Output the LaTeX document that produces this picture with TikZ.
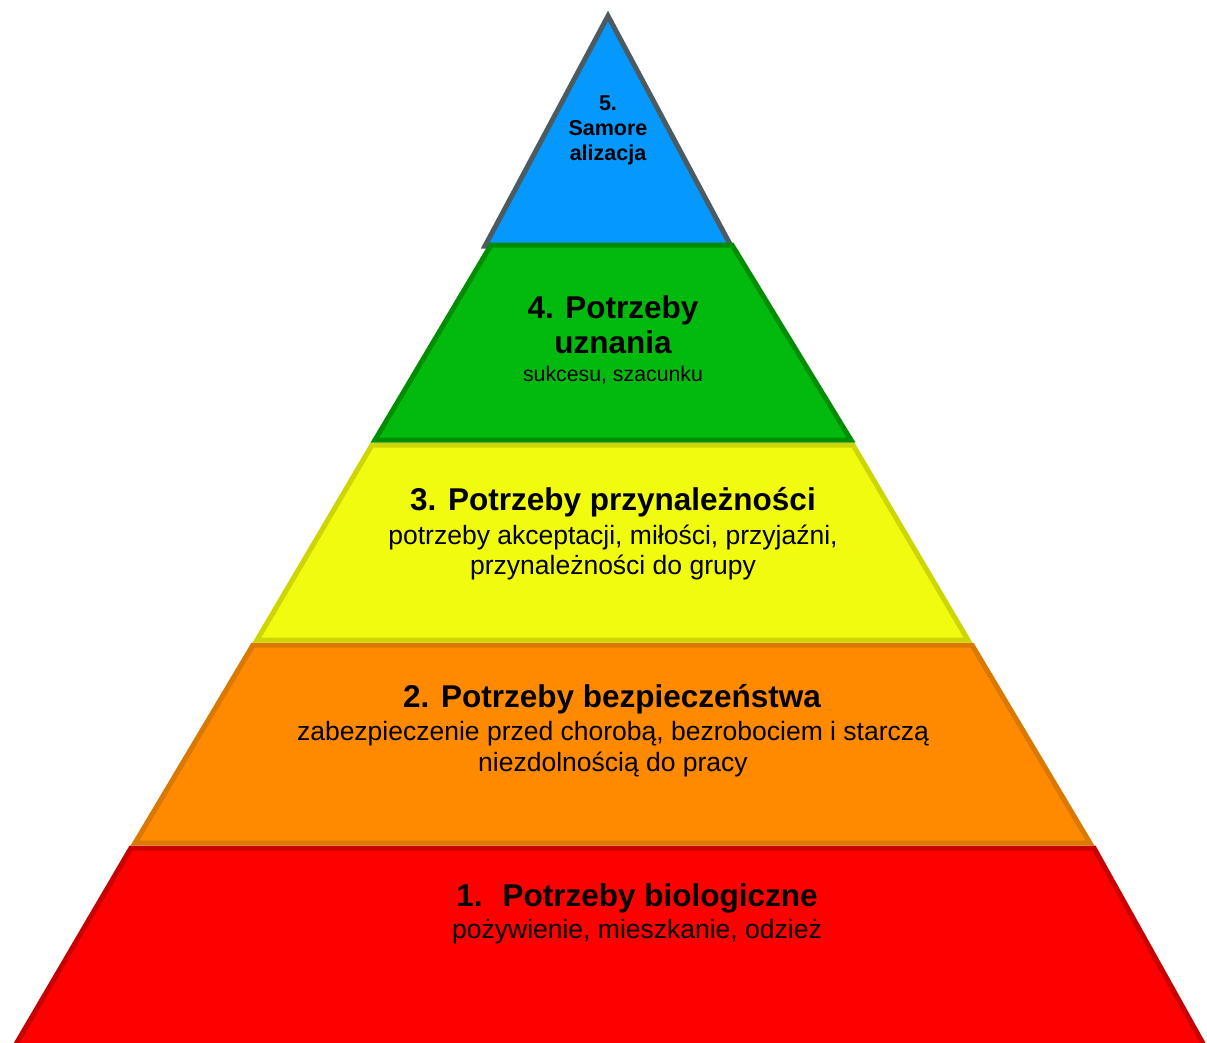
\documentclass[tikz,border=0pt]{standalone}
\usepackage{fontspec}
\setmainfont{Liberation Sans}
\definecolor{bluefill}{HTML}{0599FF}
\definecolor{blueline}{HTML}{4A5C62}
\definecolor{greenfill}{HTML}{02BA0E}
\definecolor{greenline}{HTML}{008E00}
\definecolor{yellowfill}{HTML}{F0FB10}
\definecolor{yellowline}{HTML}{CDD600}
\definecolor{orangefill}{HTML}{FF8A00}
\definecolor{orangeline}{HTML}{DA7800}
\definecolor{redfill}{HTML}{FF0000}
\definecolor{redline}{HTML}{C80000}
\tikzset{
  layer/.style={line width=5pt, line join=miter},
  ttl/.style={anchor=base, inner sep=0pt, font=\fontsize{31.5}{36}\selectfont\bfseries},
  sub/.style={anchor=base, inner sep=0pt, font=\fontsize{26.5}{30}\selectfont},
  small/.style={anchor=base, inner sep=0pt, font=\fontsize{21.3}{24}\selectfont},
  tiny/.style={anchor=base, inner sep=0pt, font=\fontsize{21.5}{24}\selectfont\bfseries},
}
\begin{document}
\begin{tikzpicture}[x=1pt,y=-1pt]
\useasboundingbox (0,0) rectangle (1207,1043);
\clip (0,0) rectangle (1207,1043);
% layers
\filldraw[layer, fill=redfill, draw=redline] (131,848) -- (1094,848) -- (1210,1056) -- (9,1056) -- cycle;
\filldraw[layer, fill=orangefill, draw=orangeline] (253,645) -- (972,645) -- (1090,843) -- (135,843) -- cycle;
\filldraw[layer, fill=yellowfill, draw=yellowline] (372,445) -- (853,445) -- (968,640) -- (257,640) -- cycle;
\filldraw[layer, fill=bluefill, draw=blueline] (608,16) -- (731,246) -- (485,246) -- cycle;
\filldraw[layer, fill=greenfill, draw=greenline] (491,245) -- (732,245) -- (851,440) -- (375,440) -- cycle;
% texts
\node[tiny] (t5a) at (608,111) {5.};
\node[tiny] (t5b) at (608,136) {Samore};
\node[tiny] (t5c) at (608,161) {alizacja};
\node[ttl] (t4a) at (613,318) {4. Potrzeby};
\node[ttl] (t4b) at (613,353) {uznania};
\node[small] (t4c) at (613,381) {sukcesu, szacunku};
\node[ttl] (t3a) at (613,510) {3. Potrzeby przynależności};
\node[sub] (t3b) at (613,544) {potrzeby akceptacji, miłości, przyjaźni,};
\node[sub] (t3c) at (613,574) {przynależności do grupy};
\node[ttl] (t2a) at (612,707) {2. Potrzeby bezpieczeństwa};
\node[sub] (t2b) at (613,740) {zabezpieczenie przed chorobą, bezrobociem i starczą};
\node[sub] (t2c) at (613,771) {niezdolnością do pracy};
\node[ttl] (t1a) at (637,906) {1.\hspace{20pt}Potrzeby biologiczne};
\node[sub] (t1b) at (637,938) {pożywienie, mieszkanie, odzież};
\end{tikzpicture}
\end{document}
